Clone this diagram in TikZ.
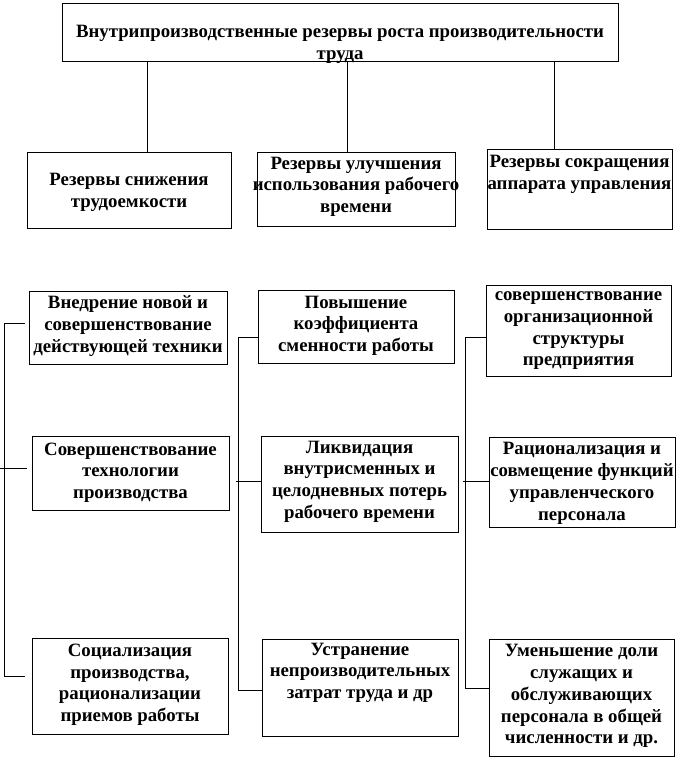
\documentclass[tikz,border=0pt]{standalone}
\usepackage{fontspec}
\setmainfont{Liberation Serif}
\begin{document}
\begin{tikzpicture}[x=1pt,y=-1pt,
  box/.style={draw, line width=0.8pt, inner sep=0pt, anchor=north west},
  txt/.style={align=center, inner sep=0pt, yshift=-3pt, font=\bfseries\fontsize{18.8}{21.8}\selectfont,
    execute at begin node={\strut}, execute at end node={\strut}},
  conn/.style={line width=0.8pt}]
\useasboundingbox (0,0) rectangle (679,760);
% boxes
\node[box, minimum width=556pt, minimum height=58pt] (top) at (62,3) {};
\node[box, minimum width=204pt, minimum height=76pt] (la) at (27,152) {};
\node[box, minimum width=198pt, minimum height=74pt] (lb) at (257,152) {};
\node[box, minimum width=185pt, minimum height=80pt] (lc) at (487,149) {};
\node[box, minimum width=198pt, minimum height=73pt] (a1) at (29,291) {};
\node[box, minimum width=197pt, minimum height=74pt] (a2) at (32,436) {};
\node[box, minimum width=196pt, minimum height=96pt] (a3) at (32,638) {};
\node[box, minimum width=196pt, minimum height=73pt] (b1) at (258,290) {};
\node[box, minimum width=197pt, minimum height=96pt] (b2) at (261,436) {};
\node[box, minimum width=196pt, minimum height=97pt] (b3) at (262,639) {};
\node[box, minimum width=185pt, minimum height=91pt] (c1) at (486,285) {};
\node[box, minimum width=186pt, minimum height=90pt] (c2) at (489,437) {};
\node[box, minimum width=185pt, minimum height=117pt] (c3) at (489,639) {};
% texts
\node[txt] (topt) at (340,43) {Внутрипроизводственные резервы роста производительности\\труда};
\node[txt] (lat) at (129,190.5) {Резервы снижения\\трудоемкости};
\node[txt] (lbt) at (356,185) {Резервы улучшения\\использования рабочего\\времени};
\node[txt] (lct) at (579.5,172.5) {Резервы сокращения\\аппарата управления};
\node[txt] (a1t) at (128,324) {Внедрение новой и\\совершенствование\\действующей техники};
\node[txt] (a2t) at (130.5,471) {Совершенствование\\технологии\\производства};
\node[txt] (a3t) at (130,683) {Социализация\\производства,\\рационализации\\приемов работы};
\node[txt] (b1t) at (356,324) {Повышение\\коэффициента\\сменности работы};
\node[txt] (b2t) at (359.5,480) {Ликвидация\\внутрисменных и\\целодневных потерь\\рабочего времени};
\node[txt] (b3t) at (360,671) {Устранение\\непроизводительных\\затрат труда и др};
\node[txt] (c1t) at (578.5,329) {совершенствование\\организационной\\структуры\\предприятия};
\node[txt] (c2t) at (582,481.5) {Рационализация и\\совмещение функций\\управленческого\\персонала};
\node[txt] (c3t) at (581.5,694.5) {Уменьшение доли\\служащих и\\обслуживающих\\персонала в общей\\численности и др.};
% top connectors
\coordinate (t1) at (147,0);
\coordinate (t2) at (347,0);
\coordinate (t3) at (554,0);
\draw[conn] (top.south -| t1) -- (la.north -| t1);
\draw[conn] (top.south -| t2) -- (lb.north -| t2);
\draw[conn] (top.south -| t3) -- (lc.north -| t3);
% column 1 bracket
\coordinate (k1a) at (4,323);
\coordinate (k1m) at (0,468);
\coordinate (k1b) at (4,676);
\draw[conn] (k1a) -- (k1b);
\draw[conn] (k1a) -- ([xshift=-4pt]a1.west |- k1a);
\draw[conn] (k1m) -- ([xshift=-5pt]a2.west |- k1m);
\draw[conn] (k1b) -- ([xshift=-7pt]a3.west |- k1b);
% column 2 bracket
\coordinate (k2a) at (238,337);
\coordinate (k2m) at (236,481);
\coordinate (k2b) at (238,690);
\draw[conn] (k2a) -- (k2b);
\draw[conn] (k2a) -- (b1.west |- k2a);
\draw[conn] (k2m) -- (b2.west |- k2m);
\draw[conn] (k2b) -- (b3.west |- k2b);
% column 3 bracket
\coordinate (k3a) at (465,337);
\coordinate (k3m) at (463,481);
\coordinate (k3b) at (465,688);
\draw[conn] (k3a) -- (k3b);
\draw[conn] (k3a) -- (c1.west |- k3a);
\draw[conn] (k3m) -- (c2.west |- k3m);
\draw[conn] (k3b) -- (c3.west |- k3b);
\end{tikzpicture}
\end{document}
